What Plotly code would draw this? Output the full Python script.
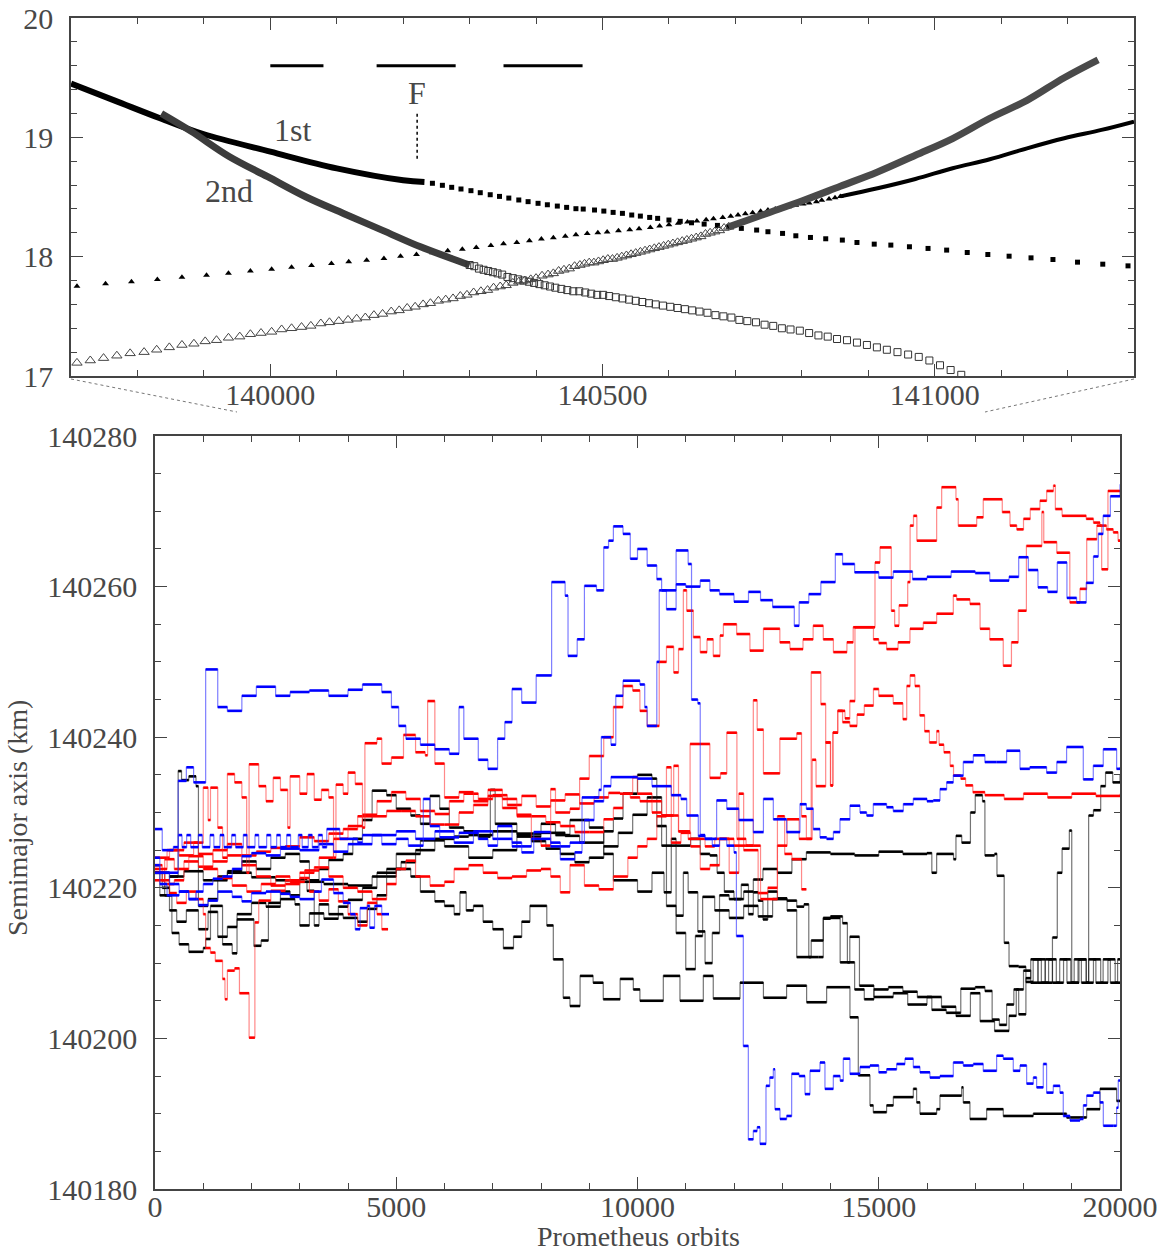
import plotly.graph_objects as go

# ---------------- top panel data (resonance locations) ----------------
sq_dense = [(139700, 19.45), (139765, 19.31), (139834, 19.16), (139898, 19.03), (140000, 18.88),
            (140100, 18.74), (140200, 18.64), (140232, 18.625)]
sq_marks = [(140244, 18.615), (140259, 18.598), (140273, 18.581), (140287, 18.567), (140302, 18.553),
            (140316, 18.536), (140331, 18.519), (140345, 18.505), (140359, 18.491), (140374, 18.475),
            (140388, 18.461), (140403, 18.447), (140417, 18.435), (140432, 18.424), (140446, 18.413),
            (140460, 18.402), (140471, 18.399), (140488, 18.391), (140502, 18.382), (140516, 18.371),
            (140530, 18.363), (140544, 18.349), (140557, 18.340), (140571, 18.329), (140583, 18.321),
            (140600, 18.307), (140617, 18.296), (140634, 18.284), (140653, 18.273), (140673, 18.262),
            (140690, 18.251), (140709, 18.237), (140732, 18.223), (140749, 18.209), (140771, 18.195),
            (140791, 18.175), (140813, 18.161), (140836, 18.150), (140861, 18.139), (140883, 18.119),
            (140909, 18.105), (140934, 18.097), (140962, 18.083), (140990, 18.069), (141018, 18.055),
            (141049, 18.035), (141080, 18.018), (141112, 18.004), (141145, 17.990), (141178, 17.976),
            (141215, 17.954), (141253, 17.937), (141291, 17.923)]

tri_marks = [(139709, 17.753), (139752, 17.772), (139791, 17.789), (139830, 17.809), (139867, 17.828),
             (139904, 17.845), (139937, 17.862), (139970, 17.879), (140002, 17.895), (140032, 17.912),
             (140062, 17.926), (140092, 17.943), (140118, 17.957), (140145, 17.971), (140171, 17.985),
             (140196, 18.004), (140220, 18.018), (140244, 18.032), (140267, 18.049), (140289, 18.063),
             (140310, 18.077), (140332, 18.094), (140351, 18.108), (140371, 18.119), (140390, 18.133),
             (140408, 18.147), (140426, 18.158), (140444, 18.172), (140460, 18.184), (140477, 18.195),
             (140493, 18.200), (140507, 18.206), (140524, 18.217), (140541, 18.226), (140555, 18.234),
             (140572, 18.245), (140586, 18.256), (140600, 18.268), (140614, 18.279), (140628, 18.290),
             (140642, 18.298), (140656, 18.310), (140667, 18.318), (140681, 18.329), (140693, 18.338),
             (140704, 18.349), (140715, 18.360), (140726, 18.368), (140738, 18.380), (140749, 18.391),
             (140760, 18.399), (140771, 18.410), (140780, 18.419), (140791, 18.430), (140802, 18.441),
             (140811, 18.449), (140822, 18.461), (140830, 18.472), (140841, 18.483), (140850, 18.494),
             (140858, 18.505)]
tri_dense = [(140858, 18.505), (140914, 18.573), (140971, 18.651), (141027, 18.741), (141083, 18.816),
             (141139, 18.908), (141195, 18.992), (141251, 19.062), (141300, 19.132)]

osq_dense = [(139836, 19.20), (139881, 19.05), (139938, 18.84), (139996, 18.67), (140054, 18.50),
             (140111, 18.36), (140169, 18.22), (140227, 18.08), (140285, 17.96), (140300, 17.93)]
osq_marks = [(140300, 17.93), (140307, 17.92), (140314, 17.90), (140321, 17.89), (140328, 17.88),
             (140335, 17.87), (140342, 17.86), (140349, 17.85), (140357, 17.83), (140365, 17.82),
             (140373, 17.81), (140381, 17.80), (140389, 17.79), (140397, 17.78), (140405, 17.77),
             (140413, 17.76), (140421, 17.75), (140429, 17.74), (140438, 17.73), (140447, 17.72),
             (140456, 17.71), (140465, 17.71), (140474, 17.70), (140483, 17.69), (140492, 17.68),
             (140501, 17.68), (140510, 17.67), (140520, 17.66), (140530, 17.65), (140540, 17.64),
             (140550, 17.63), (140560, 17.62), (140570, 17.61), (140580, 17.60), (140591, 17.59),
             (140602, 17.58), (140613, 17.57), (140624, 17.56), (140635, 17.55), (140646, 17.54),
             (140658, 17.53), (140670, 17.51), (140682, 17.50), (140694, 17.49), (140706, 17.47),
             (140718, 17.46), (140731, 17.45), (140744, 17.43), (140757, 17.42), (140770, 17.40),
             (140783, 17.39), (140797, 17.38), (140811, 17.36), (140825, 17.34), (140839, 17.33),
             (140853, 17.31), (140868, 17.30), (140883, 17.28), (140898, 17.26), (140913, 17.24),
             (140928, 17.22), (140944, 17.20), (140960, 17.18), (140976, 17.16), (140992, 17.13),
             (141008, 17.09), (141024, 17.05), (141040, 17.01)]

otri_marks = [(139709, 17.11), (139729, 17.13), (139749, 17.15), (139769, 17.17), (139789, 17.19),
              (139810, 17.20), (139829, 17.22), (139848, 17.24), (139867, 17.26), (139885, 17.27),
              (139902, 17.29), (139919, 17.30), (139937, 17.32), (139954, 17.33), (139970, 17.35),
              (139986, 17.36), (140002, 17.37), (140017, 17.39), (140032, 17.40), (140047, 17.41),
              (140061, 17.42), (140076, 17.44), (140089, 17.45), (140103, 17.46), (140117, 17.47),
              (140130, 17.48), (140143, 17.49), (140156, 17.51), (140169, 17.52), (140182, 17.54),
              (140194, 17.55), (140206, 17.57), (140218, 17.58), (140230, 17.60), (140241, 17.61),
              (140253, 17.63), (140264, 17.64), (140275, 17.65), (140286, 17.67), (140296, 17.68),
              (140306, 17.70), (140317, 17.71), (140327, 17.72), (140336, 17.74), (140346, 17.75),
              (140355, 17.76), (140365, 17.78), (140374, 17.79), (140383, 17.80), (140392, 17.81),
              (140400, 17.82), (140409, 17.84), (140418, 17.85), (140426, 17.86), (140434, 17.88),
              (140442, 17.89), (140450, 17.90), (140458, 17.92), (140466, 17.93), (140473, 17.94),
              (140480, 17.95), (140487, 17.95), (140494, 17.96), (140501, 17.97), (140508, 17.98),
              (140515, 17.98), (140522, 17.99), (140529, 18.00), (140536, 18.01), (140543, 18.02),
              (140550, 18.03), (140557, 18.04), (140564, 18.05), (140571, 18.06), (140578, 18.07),
              (140585, 18.08), (140592, 18.09), (140599, 18.10), (140606, 18.11), (140613, 18.12),
              (140620, 18.13), (140627, 18.14), (140634, 18.15), (140641, 18.16), (140648, 18.17),
              (140655, 18.19), (140662, 18.20), (140669, 18.21), (140676, 18.22), (140683, 18.24),
              (140690, 18.25)]
otri_dense = [(140690, 18.25), (140746, 18.36), (140802, 18.47), (140858, 18.59), (140914, 18.71),
              (140971, 18.85), (141027, 18.99), (141083, 19.16), (141139, 19.31), (141195, 19.50),
              (141246, 19.65)]

ring_dashes = [(140000, 140080), (140160, 140279), (140351, 140470)]
ring_dash_a = 19.6
f_ring_a = 140221
f_ring_span = (18.82, 19.20)
top_labels = [("F", 140221, 19.37), ("1st", 140033, 19.06), ("2nd", 139938, 18.55)]

# ---------------- bottom panel data: semimajor axis vs Prometheus orbits ----------------
B1 = [(0,140222.0),(480,140234.2),(650,140236.0),(800,140234.0),(1050,140249.0),(1300,140244.0),(1500,140243.5),
      (1800,140245.5),(2100,140246.7),(2500,140245.5),(2800,140246.0),(3200,140246.2),(3600,140245.5),(4000,140246.3),
      (4300,140247.0),(4700,140246.0),(4900,140244.0),(5050,140241.5),(5200,140239.8),(5500,140239.0),(5800,140238.4),
      (6100,140237.8),(6300,140244.0),(6400,140239.8),(6700,140237.0),(6900,140235.8),(7100,140239.8),(7250,140242.0),
      (7400,140246.4),(7600,140244.6),(7900,140248.2),(8220,140260.6),(8500,140258.8),(8560,140250.8),(8750,140253.0),
      (8900,140260.1),(9150,140259.5),(9300,140265.2),(9400,140266.1),(9500,140268.0),(9700,140267.0),(9850,140263.7),
      (10000,140265.0),(10200,140262.8),(10400,140261.0),(10500,140259.5),(10800,140260.3),(11000,140260.0),
      (11300,140260.8),(11500,140259.5),(11700,140259.0),(12000,140258.0),(12300,140259.3),(12550,140258.2),
      (12800,140257.3),(13250,140254.8),(13350,140257.9),(13550,140259.0),(13800,140260.6),(14100,140264.3),
      (14250,140263.0),(14500,140261.9),(15000,140261.2),(15300,140262.0),(15700,140261.0),(16000,140261.3),
      (16500,140262.0),(17000,140261.8),(17300,140260.8),(17700,140261.3),(17900,140263.9),(18100,140262.2),
      (18300,140259.9),(18500,140259.3),(18700,140263.2),(18900,140258.5),(19100,140257.9),(19300,140260.5),
      (19450,140264.0),(19550,140267.0),(19650,140269.4),(19800,140272.0),(20000,140273.6)]

B2 = [(0,140227.8),(150,140225.0),(380,140225.4),(483,140227.0),(560,140225.4),(656,140227.0),(740,140225.4),
      (898,140227.0),(980,140225.4),(1140,140227.0),(1220,140225.4),(1347,140227.0),(1430,140225.4),(1589,140227.0),
      (1670,140225.4),(1830,140227.0),(1910,140225.4),(2072,140227.0),(2150,140225.4),(2314,140227.0),(2400,140225.4),
      (2521,140227.0),(2600,140225.4),(2729,140227.0),(2810,140225.4),(2970,140227.0),(3050,140225.4),(3177,140227.0),
      (3260,140225.4),(3385,140227.0),(3470,140225.4),(3560,140227.8),(3830,140226.5),(4200,140226.0),(4300,140227.0),
      (4700,140225.8),(5000,140226.5),(5250,140225.6),(5560,140231.8),(5700,140228.2),(5900,140226.7),(6300,140227.3),
      (6700,140226.5),(6900,140225.6),(7100,140228.2),(7400,140226.0),(7600,140224.7),(7850,140227.4),(8200,140226.0),
      (8400,140223.8),(8700,140224.7),(8850,140232.0),(9200,140233.0),(9250,140240.0),(9450,140239.0),(9550,140245.5),
      (9700,140247.5),(10050,140247.0),(10150,140244.0),(10200,140241.5),(10400,140250.0),(10450,140259.5),
      (10600,140257.0),(10800,140264.8),(11050,140263.0),(11120,140245.0),(11250,140244.5),(11300,140227.0),
      (11400,140226.5),(11550,140225.6),(11700,140226.5),(11850,140225.6),(12000,140224.7),(12050,140213.6),
      (12193,140199.0),(12297,140186.6),(12400,140187.7),(12480,140188.2),(12539,140186.0),(12663,140193.7),
      (12740,140194.8),(12815,140195.9),(12849,140190.6),(12953,140189.3),(13091,140189.7),(13195,140195.3),
      (13350,140195.0),(13471,140192.6),(13575,140195.7),(13782,140196.8),(13885,140193.3),(14058,140195.0),
      (14200,140194.4),(14265,140197.3),(14403,140195.3),(14611,140196.2),(14818,140196.4),(15000,140195.5),
      (15163,140195.9),(15371,140196.6),(15543,140197.3),(15716,140196.2),(15854,140195.5),(16061,140194.8),
      (16268,140195.0),(16545,140196.8),(16752,140196.4),(16959,140196.6),(17166,140195.7),(17443,140197.7),
      (17581,140197.3),(17788,140195.7),(17927,140196.4),(18065,140194.0),(18203,140194.8),(18272,140193.5),
      (18410,140196.6),(18479,140192.8),(18617,140193.7),(18755,140192.8),(18824,140189.7),(18963,140189.1),
      (19170,140189.3),(19240,140191.1),(19309,140192.4),(19447,140192.8),(19585,140191.5),(19654,140188.4),
      (19861,140188.4),(19930,140190.8),(19964,140194.4),(20000,140194.4)]

B4 = [(0,140224.0),(100,140222.0),(300,140220.5),(500,140219.5),(700,140218.5),(850,140219.5),(1000,140220.5),
      (1200,140221.2),(1400,140221.5),(1600,140222.5),(1800,140224.2),(2000,140224.6),(2300,140224.3),(2600,140225.2),
      (3000,140225.0),(3400,140225.8),(3700,140224.8),(4000,140225.8),(4500,140227.0),(5000,140227.5),(5400,140226.5),
      (5800,140227.5),(6200,140226.0),(6600,140227.5),(7000,140226.5),(7400,140225.5),(7800,140226.5),(8200,140225.5),
      (8600,140226.0),(8900,140229.0),(9100,140231.5),(9300,140233.5),(9450,140234.7),(10000,140234.5),(10300,140233.5),
      (10700,140232.3),(10900,140231.8),(11020,140229.6),(11260,140226.9),(11400,140226.5),(11640,140231.6),
      (11850,140230.5),(12100,140229.0),(12400,140227.4),(12610,140231.8),(12815,140229.1),(13090,140227.4),
      (13367,140231.1),(13500,140230.5),(13644,140227.8),(13782,140226.7),(13920,140226.5),(14060,140227.4),
      (14196,140229.1),(14403,140230.9),(14611,140230.0),(14749,140229.6),(14887,140231.1),(15163,140230.7),
      (15300,140230.2),(15509,140231.1),(15716,140231.8),(16000,140231.5),(16130,140231.6),(16269,140233.1),
      (16407,140234.0),(16545,140234.9),(16752,140236.7),(16960,140237.6),(17200,140236.7),(17443,140236.7),
      (17650,140238.2),(17927,140235.8),(18130,140236.0),(18479,140235.3),(18690,140236.7),(18893,140238.7),
      (19239,140234.4),(19446,140236.2),(19653,140238.4),(19930,140235.8),(20000,140236.0)]

B5 = [(0,140223.0),(100,140220.5),(250,140219.0),(500,140219.5),(700,140218.5),(900,140217.7),(1100,140218.3),
      (1300,140219.5),(1600,140218.8),(1800,140218.2),(2000,140219.3),(2300,140219.5),(2600,140219.2),(2800,140218.8),
      (3000,140218.5),(3300,140219.5),(3450,140221.1),(3700,140219.3),(3900,140218.0),(4050,140216.5),(4150,140214.5),
      (4250,140217.3),(4400,140217.6),(4450,140214.7),(4550,140217.6),(4700,140216.5),(4850,140216.5)]

R1 = [(0,140222.5),(250,140225.0),(500,140224.3),(800,140226.0),(1000,140233.3),(1100,140229.0),(1150,140233.3),
      (1300,140228.0),(1400,140224.0),(1500,140235.1),(1650,140234.0),(1800,140232.0),(1900,140222.0),(1950,140236.4),
      (2150,140233.5),(2300,140231.5),(2450,140234.6),(2600,140233.0),(2750,140228.0),(2800,140234.8),(3000,140232.5),
      (3150,140235.1),(3300,140231.7),(3450,140233.0),(3600,140232.0),(3700,140224.0),(3750,140233.7),(3900,140232.5),
      (4000,140235.3),(4150,140233.8),(4300,140228.0),(4350,140239.2),(4600,140239.8),(4700,140236.5),(4900,140237.3),
      (5150,140240.3),(5400,140238.0),(5600,140237.6),(5650,140244.8),(5800,140236.5),(6000,140232.0),(6300,140232.7),
      (6600,140231.5),(6900,140233.0),(7200,140231.8),(7500,140229.7),(7800,140226.5),(8000,140225.6),(8200,140233.1),
      (8300,140230.0),(8600,140230.5),(8800,140234.5),(9000,140237.5),(9300,140240.0),(9500,140244.0),(9700,140246.8),
      (9900,140246.2),(10050,140243.5),(10200,140241.5),(10450,140250.0),(10600,140252.0),(10750,140248.6),
      (10850,140251.7),(10950,140259.5),(11020,140256.8),(11157,140253.3),(11300,140251.3),(11440,140253.0),
      (11570,140250.8),(11710,140253.5),(11780,140255.0),(12055,140253.7),(12330,140251.5),(12610,140254.4),
      (12950,140252.6),(13160,140251.7),(13430,140253.0),(13640,140254.8),(13850,140253.0),(14060,140251.3),
      (14340,140252.6),(14470,140254.6),(14890,140253.0),(15000,140252.5),(15163,140251.7),(15400,140252.6),
      (15647,140254.4),(15923,140255.2),(16200,140256.4),(16545,140258.8),(16614,140258.3),(16890,140257.7),
      (17100,140254.4),(17300,140253.0),(17580,140249.5),(17750,140252.6),(17890,140256.8),(18060,140265.4),
      (18380,140269.9),(18420,140265.9),(18690,140264.5),(18960,140257.9),(19170,140259.7),(19310,140266.3),
      (19520,140268.1),(19620,140262.3),(19750,140272.7),(20000,140272.7)]

R2 = [(0,140221.0),(200,140223.8),(400,140222.5),(700,140224.2),(1000,140222.5),(1300,140221.3),(1600,140220.3),
      (1900,140219.5),(2200,140220.5),(2500,140221.5),(2800,140220.8),(3100,140222.3),(3400,140224.0),(3700,140226.5),
      (4000,140228.2),(4300,140229.7),(4600,140231.5),(4900,140232.7),(5200,140231.8),(5500,140230.2),(5800,140229.8),
      (6100,140231.5),(6400,140232.5),(6700,140231.8),(7000,140232.3),(7300,140231.0),(7600,140232.2),(7900,140230.8),
      (8200,140231.6),(8500,140232.4),(8800,140231.2),(9100,140232.0),(9400,140232.6),(9637,140232.5),(9850,140232.0),
      (10050,140231.5),(10300,140230.0),(10500,140229.6),(10750,140236.2),(10850,140227.5),(11090,140239.1),
      (11500,140234.6),(11720,140235.2),(11850,140240.6),(12060,140226.5),(12250,140225.6),(12400,140244.9),
      (12480,140241.0),(12610,140235.2),(12950,140239.8),(13300,140240.5),(13400,140229.5),(13500,140226.5),
      (13620,140237.0),(13700,140233.5),(13900,140239.3),(14000,140233.6),(14050,140240.6),(14150,140243.5),
      (14300,140242.5),(14400,140244.8),(14507,140254.6),(14922,140263.2),(15025,140265.2),(15260,140256.8),
      (15330,140254.8),(15420,140257.5),(15600,140260.6),(15650,140268.1),(15720,140269.4),(15790,140266.1),
      (16200,140270.5),(16304,140273.2),(16600,140271.6),(16648,140268.1),(17030,140269.2),(17166,140271.6),
      (17560,140269.9),(17720,140268.1),(17860,140267.6),(18000,140269.0),(18140,140270.3),(18340,140271.4),
      (18480,140272.7),(18620,140273.4),(18660,140270.3),(18800,140269.4),(19300,140269.0),(19450,140268.5),
      (19585,140268.1),(19720,140267.6),(19860,140267.2),(19960,140266.1),(20000,140266.1)]

R3 = [(0,140223.0),(150,140221.0),(300,140219.3),(450,140218.0),(650,140219.5),(850,140218.5),(1000,140216.5),
      (1050,140212.0),(1150,140211.4),(1250,140210.3),(1400,140207.9),(1450,140205.2),(1500,140209.0),(1650,140209.3),
      (1750,140206.0),(1950,140200.1),(2070,140215.4),(2150,140218.3),(2400,140219.6),(2700,140220.5),(3000,140221.3),
      (3200,140219.5),(3400,140218.3),(3600,140219.8),(3800,140218.2),(4000,140216.5),(4200,140215.0),(4400,140218.0),
      (4600,140216.5),(4700,140214.5),(4830,140214.5)]

R4 = [(0,140224.0),(300,140225.0),(600,140226.0),(900,140224.5),(1200,140223.5),(1500,140224.3),(1800,140223.0),
      (2100,140221.5),(2400,140220.3),(2700,140221.0),(3000,140222.0),(3300,140222.7),(3600,140221.5),(3900,140220.0),
      (4200,140219.5),(4500,140218.5),(4800,140220.5),(5000,140222.5),(5200,140223.6),(5400,140221.5),(5700,140220.3),
      (6000,140220.8),(6200,140222.5),(6500,140223.0),(6800,140222.0),(7100,140221.3),(7400,140221.5),(7700,140222.3),
      (8000,140222.5),(8200,140221.5),(8400,140219.4),(8600,140223.0),(8900,140220.3),(9200,140219.8),(9500,140221.5),
      (9800,140224.0),(10000,140225.5),(10200,140226.5),(10400,140229.5),(10600,140236.0),(10700,140226.0),
      (10900,140227.3),(11100,140225.5),(11300,140222.5),(11500,140223.0),(11700,140226.5),(11900,140222.0),
      (12100,140232.5),(12200,140225.0),(12500,140219.3),(12700,140220.0),(12900,140229.5),(13050,140224.5),
      (13200,140223.8),(13400,140219.8),(13500,140219.8)]

R5 = [(0,140222.0),(200,140220.5),(400,140221.0),(600,140223.5),(900,140222.8),(1200,140225.0),(1500,140225.8),
      (1800,140224.3),(2100,140224.8),(2400,140225.3),(2700,140225.5),(3000,140226.7),(3300,140226.2),(3600,140227.2),
      (3900,140227.8),(4200,140229.5),(4500,140229.5),(4800,140230.2),(5100,140230.2),(5400,140229.5),(5700,140228.4),
      (6000,140228.4),(6300,140230.0),(6600,140231.0),(6900,140232.2),(7200,140230.6),(7500,140229.5),(7800,140229.5),
      (8100,140228.7),(8400,140228.2),(8700,140227.4),(9000,140227.4),(9300,140229.1),(9500,140230.6),(9700,140232.5),
      (9900,140234.7),(10000,140232.5),(10300,140231.5),(10500,140229.6),(10850,140227.5),(11050,140226.5),
      (11400,140225.5),(11600,140226.5),(12000,140225.6),(12300,140225.6),(12550,140218.5),(12900,140225.6),
      (13100,140229.1),(13350,140226.5),(13600,140248.6),(13800,140244.4),(13900,140239.3),(14000,140233.6),
      (14050,140240.6),(14150,140243.5),(14250,140242.0),(14400,140241.5),(14550,140243.0),(14700,140244.2),
      (14890,140246.4),(15000,140245.5),(15300,140244.5),(15500,140242.4),(15580,140246.8),(15650,140248.2),
      (15750,140246.8),(15850,140242.9),(15950,140240.8),(16050,140239.3),(16200,140240.8),(16250,140239.0),
      (16350,140238.0),(16480,140236.2),(16550,140234.9),(16700,140234.5),(16800,140233.6),(16950,140232.7),
      (17200,140232.3),(17600,140231.8),(18000,140232.5),(18500,140232.0),(19000,140232.5),(19500,140232.2),
      (20000,140232.5)]

K1 = [(0,140222.0),(200,140219.0),(350,140214.0),(500,140212.5),(700,140211.5),(1000,140212.0),(1050,140213.2),
      (1150,140217.6),(1400,140212.5),(1600,140211.3),(1700,140215.8),(2050,140212.3),(2200,140213.0),(2350,140218.0),
      (2600,140219.5),(2800,140219.0),(3000,140221.2),(3150,140219.6),(3300,140215.0),(3400,140217.8),(3600,140216.5),
      (3900,140216.0),(4200,140215.5),(4400,140217.2),(4600,140219.0),(4800,140221.5),(5000,140222.5),(5300,140221.5),
      (5500,140219.5),(5800,140218.2),(6000,140217.6),(6200,140216.5),(6320,140219.4),(6450,140217.0),(6600,140217.6),
      (6800,140215.5),(7000,140214.5),(7220,140212.0),(7430,140213.5),(7600,140215.5),(7770,140217.6),(8120,140215.0),
      (8255,140210.5),(8460,140205.4),(8600,140204.3),(8810,140208.3),(9080,140207.4),(9290,140205.2),(9640,140207.9),
      (9913,140206.5),(10050,140205.0),(10535,140208.3),(10880,140205.0),(11364,140208.3),(11570,140205.3),
      (12125,140207.4),(12610,140205.4),(13090,140207.0),(13505,140204.8),(13920,140206.8),(14403,140202.8),
      (14576,140195.1),(14818,140191.1),(14887,140190.2),(15163,140191.1),(15302,140192.2),(15716,140193.3),
      (15785,140191.5),(15854,140190.0),(16200,140190.6),(16268,140192.4),(16718,140193.5),(16752,140191.5),
      (16890,140189.3),(17236,140190.6),(17581,140189.7),(18203,140190.0),(18893,140189.5),(19309,140190.6),
      (19585,140193.3),(19930,140191.7),(20000,140191.7)]

K2 = [(0,140222.0),(300,140221.5),(600,140222.2),(1000,140221.0),(1500,140222.0),(2000,140221.4),(2500,140221.0),
      (3000,140220.8),(3500,140220.5),(4000,140220.3),(4500,140221.5),(4800,140222.5),(5100,140223.4),(5400,140225.0),
      (5800,140226.5),(6200,140226.8),(6500,140227.0),(7000,140227.5),(7500,140227.2),(8000,140227.3),(8500,140226.9),
      (8800,140226.0),(9300,140227.5),(9500,140229.2),(9700,140232.5),(10000,140235.0),(10300,140234.5),
      (10400,140232.0),(10500,140228.2),(10600,140217.6),(10800,140216.3),(10950,140222.0),(11050,140219.4),
      (11250,140214.2),(11400,140210.0),(11550,140214.0),(11700,140219.0),(11900,140218.5),(12150,140220.4),
      (12300,140216.5),(12400,140219.4),(12500,140218.3),(12600,140215.8),(12700,140219.5),(12900,140218.6),
      (13100,140218.3),(13300,140217.5),(13450,140217.8),(13550,140210.8),(13750,140210.8),(13850,140215.9),
      (14000,140216.2),(14250,140215.3),(14350,140210.1),(14500,140206.5),(14700,140205.2),(14900,140206.5),
      (15200,140206.8),(15500,140206.2),(15800,140205.5),(16100,140203.8),(16400,140203.4),(16700,140206.6),
      (17000,140206.8),(17200,140206.3),(17350,140202.5),(17500,140201.8),(17650,140204.5),(17800,140206.5),
      (17900,140203.2),(18050,140208.0),(18150,140210.5),(18300,140207.4),(18450,140210.5),(18600,140207.4),
      (18750,140210.5),(18900,140207.4),(19050,140210.5),(19200,140207.4),(19350,140210.5),(19500,140207.4),
      (19650,140210.5),(19800,140207.4),(19950,140210.5),(20000,140210.5)]

K3 = [(0,140222.0),(100,140219.0),(300,140221.5),(480,140235.5),(550,140234.3),(700,140234.8),(850,140233.5),
      (900,140217.6),(1100,140218.5),(1300,140221.5),(1500,140222.2),(1800,140223.5),(2100,140222.5),(2400,140224.0),
      (2700,140224.5),(3000,140223.5),(3200,140221.0),(3400,140222.5),(3600,140223.7),(3900,140224.5),(4100,140226.5),
      (4300,140229.0),(4500,140232.9),(4800,140232.3),(5000,140230.5),(5300,140229.6),(5500,140228.5),(5700,140232.2),
      (5900,140230.5),(6100,140228.0),(6400,140227.5),(6700,140226.8),(6950,140233.0),(7050,140228.5),(7500,140227.0),
      (7800,140226.2),(8100,140225.2),(8400,140224.5),(8700,140223.4),(9000,140224.0),(9300,140225.5),(9600,140227.3),
      (9900,140229.7),(10200,140232.0),(10400,140228.2),(10500,140225.6),(10800,140225.6),(11100,140226.5),
      (11300,140224.5),(11500,140224.3),(11650,140222.0),(11800,140219.5),(12000,140218.5),(12200,140219.5),
      (12400,140221.1),(12600,140222.5),(12900,140222.0),(13200,140223.8),(13500,140224.7),(14000,140224.5),
      (14500,140224.3),(15000,140224.8),(15500,140224.5),(16000,140224.6),(16100,140222.0),(16200,140224.5),
      (16550,140223.8),(16600,140226.9),(16720,140226.0),(16900,140230.0),(17000,140232.3),(17150,140231.5),
      (17200,140224.3),(17400,140224.5),(17450,140221.6),(17600,140212.7),(17700,140209.6),(17900,140209.5),
      (18050,140207.5),(18200,140210.5),(18370,140207.4),(18520,140210.5),(18680,140207.4),(18830,140210.5),
      (18980,140207.4),(19130,140210.5),(19300,140207.4),(19350,140229.6),(19450,140230.3),(19600,140233.5),
      (19700,140235.3),(19850,140234.0),(20000,140235.0)]

K4 = [(0,140222.0),(150,140220.0),(300,140217.0),(450,140215.5),(650,140217.0),(900,140214.5),(1100,140216.8),
      (1300,140213.5),(1500,140214.8),(1700,140216.5),(2000,140218.0),(2300,140217.5),(2600,140218.5),(2900,140217.8),
      (3000,140215.0),(3200,140216.6),(3500,140215.9),(3800,140217.5),(4000,140218.4),(4300,140220.0),(4600,140222.0),
      (5000,140224.5),(5500,140226.3),(6000,140225.5),(6500,140224.0),(7000,140225.0),(7500,140226.8),(8000,140228.5),
      (8300,140227.0),(8600,140229.0),(9000,140228.0),(9300,140224.5),(9500,140221.0),(10000,140219.5),
      (10300,140222.0),(10550,140219.4),(10700,140226.5),(10800,140214.0),(11000,140209.2),(11200,140213.6),
      (11350,140218.8),(11600,140217.0),(11900,140216.0),(12200,140217.6),(12500,140216.2),(12800,140218.5),
      (13100,140217.0),(13300,140210.8),(13600,140213.0),(13850,140216.0),(14200,140210.1),(14400,140213.5),
      (14600,140207.0),(14900,140205.5),(15300,140206.0),(15600,140204.5),(16000,140205.5),(16300,140204.2),
      (16600,140203.0),(16900,140206.0),(17100,140202.3),(17400,140201.0),(17700,140203.0),(17850,140206.5),
      (18000,140209.0),(18150,140207.4),(18300,140210.5),(18450,140207.4),(18600,140213.4),(18700,140222.0),
      (18800,140225.2),(18950,140227.6),(19000,140207.4),(19150,140210.5),(19300,140207.4),(19450,140210.5),
      (19600,140207.4),(19750,140210.5),(19900,140207.4),(20000,140207.4)]

black_runs = [K1, K2, K3, K4]
red_runs = [R3, R4, R5, R2, R1]
blue_runs = [B5, B4, B2, B1]

# ---------------- figure ----------------
W, H = 1165, 1253
FONT = "Liberation Serif"
TXT = "#484848"
AX = "#444444"

fig = go.Figure()


def xs(p):
    return [a for a, _ in p]


def ys(p):
    return [b for _, b in p]


def flats(p):
    fx, fy = [], []
    for (x0, y0), (x1, _) in zip(p[:-1], p[1:]):
        fx += [x0, x1, None]
        fy += [y0, y0, None]
    return fx, fy


# top panel
fig.add_trace(go.Scatter(x=xs(sq_dense), y=ys(sq_dense), mode="lines", line=dict(color="black", width=6, shape="spline"),
                         xaxis="x", yaxis="y", hoverinfo="skip"))
fig.add_trace(go.Scatter(x=xs(sq_marks), y=ys(sq_marks), mode="markers",
                         marker=dict(symbol="square", size=5, color="black"), xaxis="x", yaxis="y"))
fig.add_trace(go.Scatter(x=xs(tri_marks), y=ys(tri_marks), mode="markers",
                         marker=dict(symbol="triangle-up", size=6, color="black"), xaxis="x", yaxis="y"))
fig.add_trace(go.Scatter(x=xs(tri_dense), y=ys(tri_dense), mode="lines", line=dict(color="black", width=4, shape="spline"),
                         xaxis="x", yaxis="y"))
fig.add_trace(go.Scatter(x=xs(osq_dense), y=ys(osq_dense), mode="lines", line=dict(color="#3c3c3c", width=7, shape="spline"),
                         xaxis="x", yaxis="y"))
fig.add_trace(go.Scatter(x=xs(osq_marks), y=ys(osq_marks), mode="markers",
                         marker=dict(symbol="square-open", size=7, color="#333333", line=dict(width=1)),
                         xaxis="x", yaxis="y"))
fig.add_trace(go.Scatter(x=xs(otri_marks), y=ys(otri_marks), mode="markers",
                         marker=dict(symbol="triangle-up-open", size=9, color="#444444", line=dict(width=1)),
                         xaxis="x", yaxis="y"))
fig.add_trace(go.Scatter(x=xs(otri_dense), y=ys(otri_dense), mode="lines", line=dict(color="#4a4a4a", width=7, shape="spline"),
                         xaxis="x", yaxis="y"))
for a, b in ring_dashes:
    fig.add_trace(go.Scatter(x=[a, b], y=[ring_dash_a, ring_dash_a], mode="lines",
                             line=dict(color="black", width=3), xaxis="x", yaxis="y"))
fig.add_trace(go.Scatter(x=[f_ring_a, f_ring_a], y=list(f_ring_span), mode="lines",
                         line=dict(color="black", width=1.5, dash="dot"), xaxis="x", yaxis="y"))
for txt, tx, ty in top_labels:
    fig.add_annotation(x=tx, y=ty, xref="x", yref="y", text=txt, showarrow=False,
                       xanchor="center", yanchor="middle",
                       font=dict(family=FONT, size=32, color=TXT))

# bottom panel
styles = [(black_runs, "black", "rgba(0,0,0,0.55)"),
          (red_runs, "#ff0000", "rgba(255,40,40,0.55)"),
          (blue_runs, "#0000ff", "rgba(40,40,255,0.6)")]
for runs, solid, thin in styles:
    for run in runs:
        fig.add_trace(go.Scatter(x=xs(run), y=ys(run), mode="lines",
                                 line=dict(color=thin, width=1.2, shape="hv"),
                                 xaxis="x2", yaxis="y2", hoverinfo="skip"))
        fx, fy = flats(run)
        fig.add_trace(go.Scatter(x=fx, y=fy, mode="lines", line=dict(color=solid, width=2.6),
                                 xaxis="x2", yaxis="y2", hoverinfo="skip"))

axis_common = dict(showgrid=False, zeroline=False, showline=True, linecolor=AX, linewidth=1.5,
                   mirror="allticks", ticks="inside", tickcolor=AX, tickwidth=1.2, automargin=False,
                   tickfont=dict(family=FONT, size=30, color=TXT), tickformat="d")

top_x = (71 / W, 1134 / W)
top_y = (1 - 376 / H, 1 - 18 / H)
bot_x = (155 / W, 1120 / W)
bot_y = (1 - 1189 / H, 1 - 436 / H)

fig.update_layout(
    width=W, height=H, margin=dict(l=0, r=0, t=0, b=0, autoexpand=False),
    paper_bgcolor="white", plot_bgcolor="white", showlegend=False,
    xaxis=dict(domain=list(top_x), range=[139700, 141300], tickvals=[140000, 140500, 141000], ticklen=12,
               ticklabelstandoff=-9,
               minor=dict(dtick=100, ticklen=6, ticks="inside", tickcolor=AX), anchor="y", **axis_common),
    yaxis=dict(domain=list(top_y), range=[17, 20], dtick=1, ticklen=12, ticklabelstandoff=10,
               minor=dict(dtick=0.2, ticklen=6, ticks="inside", tickcolor=AX), anchor="x", **axis_common),
    xaxis2=dict(domain=list(bot_x), range=[0, 20000], dtick=5000, tick0=0, ticklen=12, ticklabelstandoff=-10,
                minor=dict(dtick=1000, ticklen=6, ticks="inside", tickcolor=AX), anchor="y2", **axis_common),
    yaxis2=dict(domain=list(bot_y), range=[140180, 140280], dtick=20, tick0=140180, ticklen=12,
                ticklabelstandoff=10,
                minor=dict(dtick=5, ticklen=6, ticks="inside", tickcolor=AX), anchor="x2", **axis_common),
)

fig.add_annotation(x=17 / W, y=1 - 818 / H, xref="paper", yref="paper", text="Semimajor axis (km)",
                   textangle=-90, showarrow=False, xanchor="center", yanchor="middle",
                   font=dict(family=FONT, size=28, color=TXT))
fig.add_annotation(x=638 / W, y=1 - 1236 / H, xref="paper", yref="paper", text="Prometheus orbits",
                   showarrow=False, xanchor="center", yanchor="middle",
                   font=dict(family=FONT, size=28, color=TXT))

# zoom connector lines
fig.add_shape(type="line", xref="paper", yref="paper", x0=71 / W, y0=1 - 379 / H, x1=237 / W, y1=1 - 412 / H,
              line=dict(color="#777777", width=1, dash="dot"))
fig.add_shape(type="line", xref="paper", yref="paper", x0=1134 / W, y0=1 - 379 / H, x1=985 / W, y1=1 - 412 / H,
              line=dict(color="#777777", width=1, dash="dot"))

fig.write_html("out.html")
